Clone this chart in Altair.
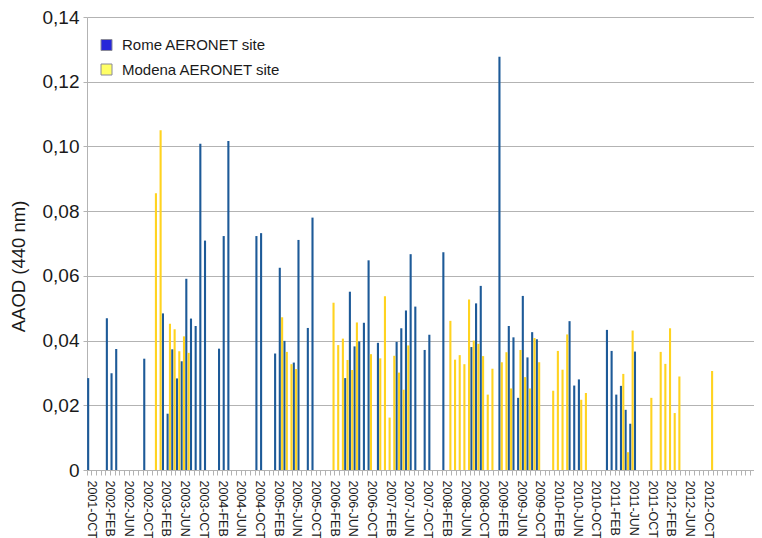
import altair as alt
import pandas as pd

# ---- categories -------------------------------------------------------------
month_abbr = ["JAN", "FEB", "MAR", "APR", "MAY", "JUN",
              "JUL", "AUG", "SEP", "OCT", "NOV", "DEC"]
# monthly categories from 2001-OCT to 2013-SEP
months = [f"{2001 + (9 + k) // 12}-{month_abbr[(9 + k) % 12]}" for k in range(144)]

tick_labels = [
    "2001-OCT", "2002-FEB", "2002-JUN", "2002-OCT", "2003-FEB", "2003-JUN",
    "2003-OCT", "2004-FEB", "2004-JUN", "2004-OCT", "2005-FEB", "2005-JUN",
    "2005-OCT", "2006-FEB", "2006-JUN", "2006-OCT", "2007-FEB", "2007-JUN",
    "2007-OCT", "2008-FEB", "2008-JUN", "2008-OCT", "2009-FEB", "2009-JUN",
    "2009-OCT", "2010-FEB", "2010-JUN", "2010-OCT", "2011-FEB", "2011-JUN",
    "2011-OCT", "2012-FEB", "2012-JUN", "2012-OCT",
]

sites = ["Rome AERONET site", "Modena AERONET site"]

# ---- series -----------------------------------------------------------------
rome_months = [
    "2001-OCT", "2002-FEB", "2002-MAR", "2002-APR", "2002-OCT", "2003-FEB",
    "2003-MAR", "2003-APR", "2003-MAY", "2003-JUN", "2003-JUL", "2003-AUG",
    "2003-SEP", "2003-OCT", "2003-NOV", "2004-FEB", "2004-MAR", "2004-APR",
    "2004-OCT", "2004-NOV", "2005-FEB", "2005-MAR", "2005-APR", "2005-JUN",
    "2005-JUL", "2005-SEP", "2005-OCT", "2006-MAY", "2006-JUN", "2006-JUL",
    "2006-AUG", "2006-SEP", "2006-OCT", "2006-DEC", "2007-APR", "2007-MAY",
    "2007-JUN", "2007-JUL", "2007-AUG", "2007-OCT", "2007-NOV", "2008-FEB",
    "2008-AUG", "2008-SEP", "2008-OCT", "2009-FEB", "2009-APR", "2009-MAY",
    "2009-JUN", "2009-JUL", "2009-AUG", "2009-SEP", "2009-OCT", "2010-MAY",
    "2010-JUN", "2010-JUL", "2011-JAN", "2011-FEB", "2011-MAR", "2011-APR",
    "2011-MAY", "2011-JUN", "2011-JUL",
]
rome_values = [
    0.0284, 0.0469, 0.0299, 0.0374, 0.0344, 0.0484,
    0.0174, 0.0373, 0.0283, 0.0336, 0.0591, 0.0468,
    0.0445, 0.1008, 0.0709, 0.0375, 0.0723, 0.1017,
    0.0723, 0.0732, 0.0360, 0.0625, 0.0399, 0.0332,
    0.0711, 0.0439, 0.0780, 0.0284, 0.0551, 0.0382,
    0.0397, 0.0455, 0.0648, 0.0393, 0.0396, 0.0438,
    0.0493, 0.0667, 0.0505, 0.0371, 0.0418, 0.0673,
    0.0380, 0.0515, 0.0569, 0.1277, 0.0445, 0.0410,
    0.0223, 0.0538, 0.0348, 0.0426, 0.0404, 0.0460,
    0.0261, 0.0280, 0.0433, 0.0368, 0.0233, 0.0260,
    0.0186, 0.0143, 0.0366,
]

modena_months = [
    "2002-DEC", "2003-JAN", "2003-MAR", "2003-APR", "2003-MAY", "2003-JUN",
    "2003-JUL", "2005-MAR", "2005-APR", "2005-MAY", "2005-JUN", "2006-FEB",
    "2006-MAR", "2006-APR", "2006-MAY", "2006-JUN", "2006-JUL", "2006-OCT",
    "2006-DEC", "2007-JAN", "2007-FEB", "2007-MAR", "2007-APR", "2007-MAY",
    "2007-JUN", "2008-MAR", "2008-APR", "2008-MAY", "2008-JUN", "2008-JUL",
    "2008-AUG", "2008-SEP", "2008-OCT", "2008-NOV", "2008-DEC", "2009-FEB",
    "2009-MAR", "2009-APR", "2009-JUN", "2009-JUL", "2009-AUG", "2009-SEP",
    "2009-OCT", "2010-JAN", "2010-FEB", "2010-MAR", "2010-APR", "2010-JUL",
    "2010-AUG", "2011-APR", "2011-MAY", "2011-JUN", "2011-OCT", "2011-DEC",
    "2012-JAN", "2012-FEB", "2012-MAR", "2012-APR", "2012-NOV",
]
modena_values = [
    0.0855, 0.1050, 0.0452, 0.0435, 0.0367, 0.0413,
    0.0362, 0.0472, 0.0365, 0.0327, 0.0312, 0.0517,
    0.0386, 0.0406, 0.0340, 0.0309, 0.0456, 0.0358,
    0.0345, 0.0537, 0.0162, 0.0353, 0.0301, 0.0248,
    0.0385, 0.0461, 0.0341, 0.0355, 0.0327, 0.0527,
    0.0400, 0.0390, 0.0352, 0.0233, 0.0313, 0.0333,
    0.0364, 0.0252, 0.0371, 0.0287, 0.0252, 0.0408,
    0.0333, 0.0245, 0.0368, 0.0310, 0.0419, 0.0217,
    0.0238, 0.0297, 0.0055, 0.0431, 0.0223, 0.0365,
    0.0328, 0.0438, 0.0176, 0.0289, 0.0306,
]

y_ticks = [0, 0.02, 0.04, 0.06, 0.08, 0.10, 0.12, 0.14]

bar_colors = ["#1d5a98", "#ffd320"]
legend_colors = ["#2626d9", "#ffff66"]

df = pd.concat([
    pd.DataFrame({"month": rome_months, "value": rome_values, "site": sites[0]}),
    pd.DataFrame({"month": modena_months, "value": modena_values, "site": sites[1]}),
], ignore_index=True)

font = "Liberation Sans"
grey = "#b3b3b3"
label_list = "[" + ",".join(f"'{t}'" for t in tick_labels) + "]"

bars = alt.Chart(df).mark_bar().encode(
    x=alt.X(
        "month:N",
        sort=months,
        scale=alt.Scale(domain=months, paddingInner=0, paddingOuter=0),
        axis=alt.Axis(
            title=None,
            bandPosition=0,
            labelOffset=2.33,
            labelAngle=90,
            labelExpr=f"indexof({label_list}, datum.value) >= 0 ? datum.value : ''",
            labelOverlap=False,
            labelFont=font,
            labelFontSize=12.5,
            labelColor="#1a1a1a",
            labelPadding=5,
            tickSize=5,
            tickColor=grey,
            domainColor=grey,
            grid=False,
        ),
    ),
    xOffset=alt.XOffset(
        "site:N",
        sort=sites,
        scale=alt.Scale(domain=sites, paddingInner=0.1, paddingOuter=0.05),
    ),
    y=alt.Y(
        "value:Q",
        scale=alt.Scale(domain=[0, 0.14], nice=False, zero=True),
        axis=alt.Axis(
            values=y_ticks,
            labelExpr="datum.value == 0 ? '0' : replace(format(datum.value, '.2f'), '.', ',')",
            title="AAOD (440 nm)",
            titleFont=font,
            titleFontSize=18.5,
            titleFontWeight="normal",
            titleColor="#1a1a1a",
            titleX=-69,
            titleY=249,
            titleAlign="center",
            titleBaseline="middle",
            labelFont=font,
            labelFontSize=19,
            labelColor="#1a1a1a",
            labelPadding=4,
            tickSize=4,
            tickColor=grey,
            domainColor=grey,
            gridColor=grey,
            grid=True,
        ),
    ),
    color=alt.Color("site:N", scale=alt.Scale(domain=sites, range=bar_colors), legend=None),
)

legend_layer = alt.Chart(df).mark_square(opacity=0, size=121).encode(
    color=alt.Color(
        "site:N",
        scale=alt.Scale(domain=sites, range=legend_colors),
        legend=alt.Legend(
            title=None,
            orient="none",
            legendX=12,
            legendY=20.5,
            padding=0,
            symbolType="square",
            symbolSize=121,
            symbolOpacity=1,
            symbolStrokeColor="#8a8a9a",
            symbolStrokeWidth=1,
            labelFont=font,
            labelFontSize=15,
            labelColor="#1a1a1a",
            labelOffset=8,
            rowPadding=8.5,
        ),
    ),
)

chart = (
    alt.layer(bars, legend_layer)
    .resolve_scale(color="independent")
    .properties(
        width=673,
        height=453,
        autosize=alt.AutoSizeParams(type="none"),
        padding={"left": 79, "top": 9, "right": -6, "bottom": 68},
        background="white",
    )
    .configure_view(stroke=None)
)

chart.save("out.html", embed_options={"renderer": "svg", "actions": False})
